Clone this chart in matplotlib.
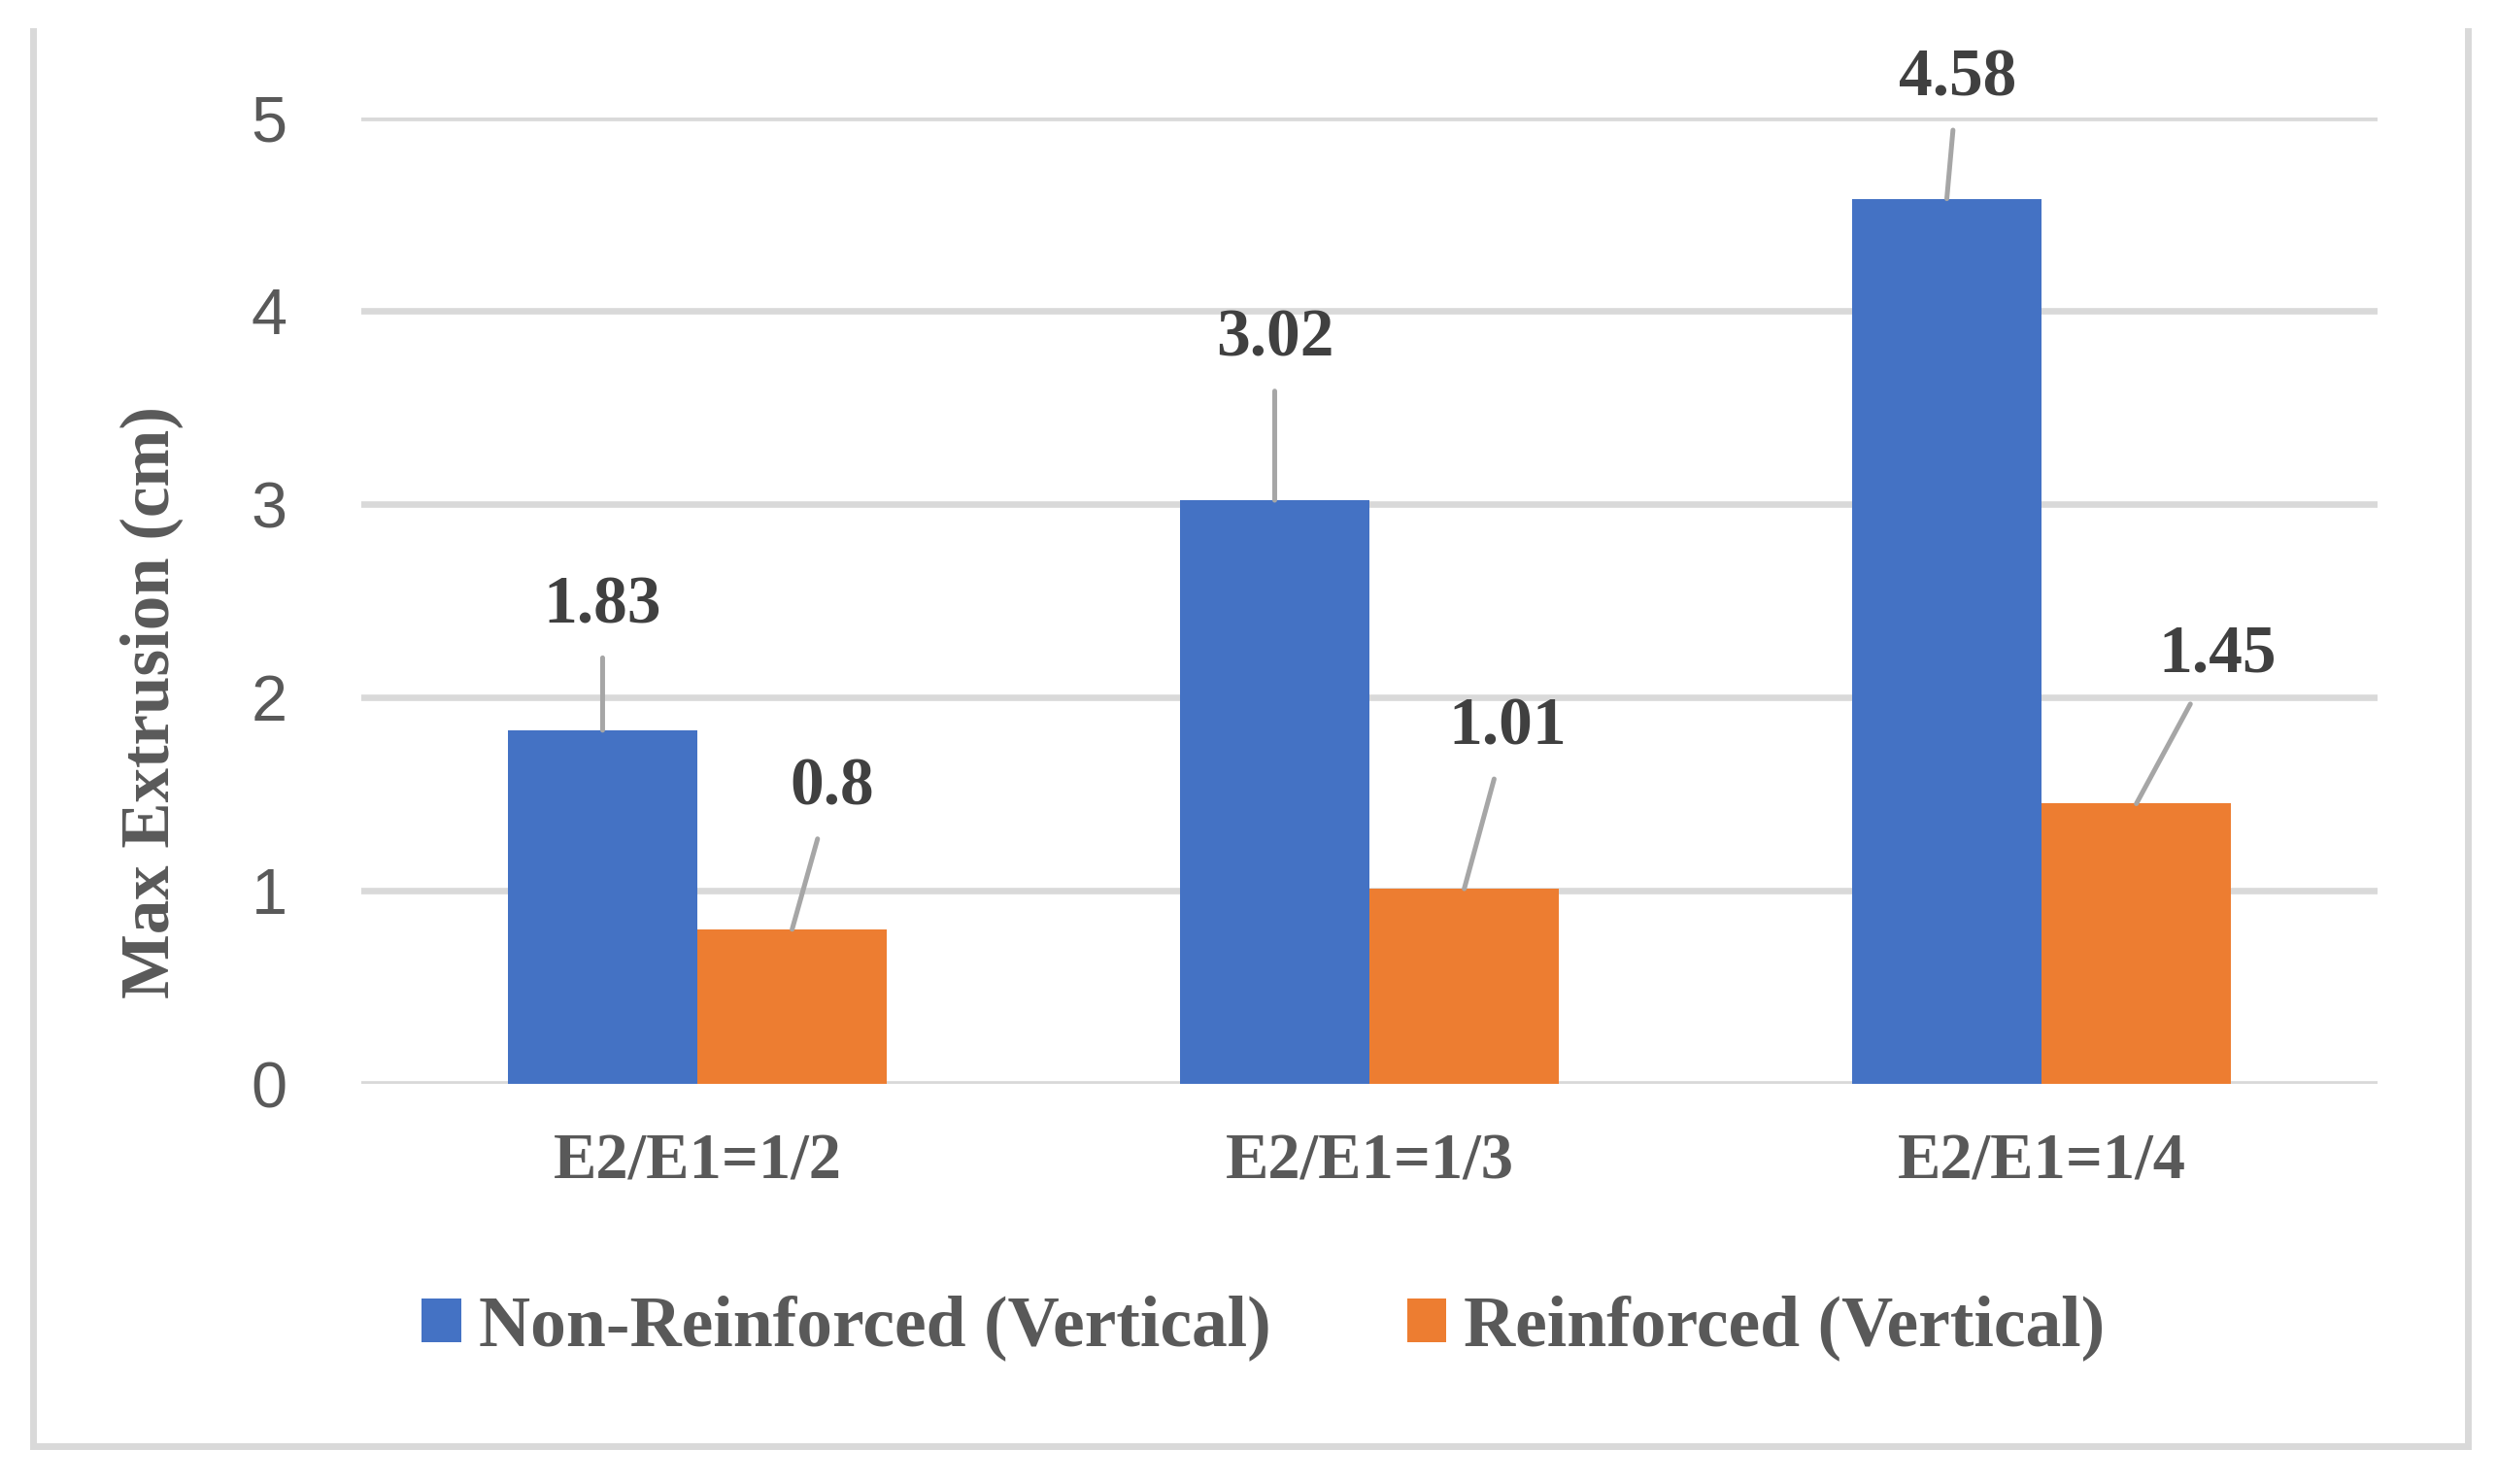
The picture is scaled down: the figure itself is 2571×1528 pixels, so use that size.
import matplotlib
matplotlib.use("Agg")
import matplotlib.pyplot as plt
from matplotlib.lines import Line2D
import numpy as np

# Data
categories = ["E2/E1=1/2", "E2/E1=1/3", "E2/E1=1/4"]
non_reinforced = [1.83, 3.02, 4.58]
reinforced = [0.8, 1.01, 1.45]
series_names = ["Non-Reinforced (Vertical)", "Reinforced (Vertical)"]

# Data label placement relative to bar top (dx in category units, dy in value units)
label_dx_blue = [0.0, 0.0, 0.016]
label_dy_blue = [0.64, 0.83, 0.62]
label_dx_orange = [0.059, 0.065, 0.12]
label_dy_orange = [0.73, 0.83, 0.77]

BLUE = "#4472C4"
ORANGE = "#ED7D31"
GRID = "#D9D9D9"
TEXT = "#595959"
LABEL = "#404040"
SERIF = ["Liberation Serif", "DejaVu Serif"]
SANS = ["Liberation Sans Narrow", "Liberation Sans", "DejaVu Sans"]


def main():
    fig = plt.figure(figsize=(25.71, 15.28), dpi=100)
    ax = fig.add_axes([0.1447, 0.2696, 0.8075, 0.6512])

    x = np.arange(len(categories))
    width = 0.282

    bars_blue = ax.bar(x - width / 2, non_reinforced, width, color=BLUE,
                       label=series_names[0], zorder=3)
    bars_orange = ax.bar(x + width / 2, reinforced, width, color=ORANGE,
                         label=series_names[1], zorder=3)

    # Axis limits, grid and ticks
    ax.set_xlim(-0.5, len(categories) - 0.5)
    ax.set_ylim(0, 5)
    ax.set_yticks(range(0, 6))
    ax.yaxis.grid(True, color=GRID, linewidth=4.8)
    ax.set_axisbelow(True)
    for spine in ax.spines.values():
        spine.set_visible(False)

    ax.set_xticks(x)
    ax.set_xticklabels(categories, fontfamily=SERIF, fontweight="bold",
                       fontsize=48, color=TEXT)
    ax.tick_params(axis="x", length=0, pad=36)
    ax.tick_params(axis="y", length=0, pad=55, labelsize=48, labelcolor=TEXT)
    for lbl in ax.get_yticklabels():
        lbl.set_fontfamily(SANS)

    ax.set_ylabel("Max Extrusion (cm)", fontfamily=SERIF, fontweight="bold",
                  fontsize=51, color=TEXT)
    ax.yaxis.set_label_coords(-0.088, 0.395)

    # Data labels with leader lines
    def add_labels(bars, values, dxs, dys):
        for bar, v, dx, dy in zip(bars, values, dxs, dys):
            cx = bar.get_x() + bar.get_width() / 2
            ax.annotate(f"{v:g}", xy=(cx, v), xytext=(cx + dx, v + dy),
                        ha="center", va="center", fontsize=50,
                        fontfamily=SERIF, fontweight="bold", color=LABEL,
                        annotation_clip=False,
                        arrowprops=dict(arrowstyle="-", color="#A6A6A6",
                                        linewidth=3.6, shrinkA=13, shrinkB=0))

    add_labels(bars_blue, non_reinforced, label_dx_blue, label_dy_blue)
    add_labels(bars_orange, reinforced, label_dx_orange, label_dy_orange)

    # Legend below the plot
    fig.legend(handles=[bars_blue, bars_orange], labels=series_names,
               loc="center", bbox_to_anchor=(0.506, 0.105), ncol=2,
               frameon=False, handlelength=0.55, handleheight=0.57,
               handletextpad=0.25, columnspacing=1.9,
               prop={"family": SERIF, "weight": "bold", "size": 53},
               labelcolor=TEXT)

    # Light gray chart border (left, bottom, right)
    left, right, bottom, top = 0.0134, 0.9883, 0.0258, 0.979
    fig.add_artist(Line2D([left, left, right, right], [top, bottom, bottom, top],
                          transform=fig.transFigure, color=GRID, linewidth=5,
                          solid_joinstyle="miter"))

    fig.savefig("out.png", dpi=100)


if __name__ == "__main__":
    main()
